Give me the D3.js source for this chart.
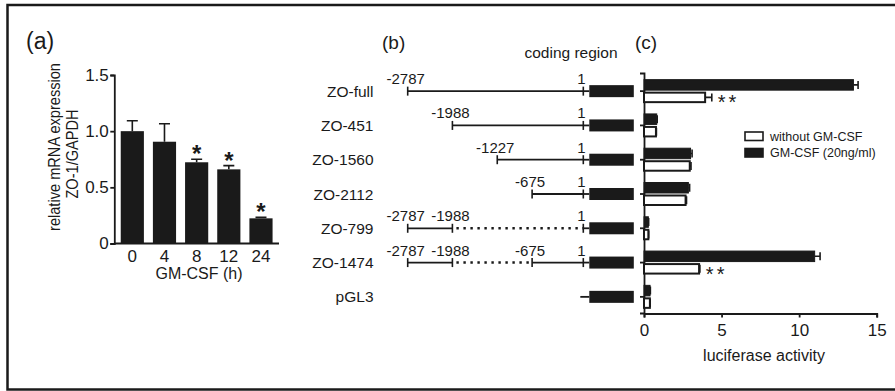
<!DOCTYPE html>
<html>
<head>
<meta charset="utf-8">
<script src="https://cdn.jsdelivr.net/npm/d3@7"></script>
<style>
  body { margin: 0; background: #fff; }
  svg { display: block; font-family: "Liberation Sans", Arial, sans-serif; }
</style>
</head>
<body>
<svg id="chart" width="895" height="391"></svg>
<script>
// panel (a): ZO-1 mRNA over time
const timeLabels = ["0", "4", "8", "12", "24"];
const mrnaMean = [1.0, 0.906, 0.723, 0.66, 0.224];
const mrnaErr = [0.093, 0.16, 0.027, 0.033, 0.009];
const mrnaSig = ["", "", "*", "*", "*"];
const yTicksA = [0, 0.5, 1.0, 1.5];

// panel (b): promoter constructs
const constructs = ["ZO-full", "ZO-451", "ZO-1560", "ZO-2112", "ZO-799", "ZO-1474", "pGL3"];
const segments = [
  [[-2787, 1, "solid"]],
  [[-1988, 1, "solid"]],
  [[-1227, 1, "solid"]],
  [[-675, 1, "solid"]],
  [[-2787, -1988, "solid"], [-1988, 1, "dotted"]],
  [[-2787, -1988, "solid"], [-1988, -675, "dotted"], [-675, 1, "solid"]],
  []
];
const breakpoints = [
  [-2787, 1], [-1988, 1], [-1227, 1], [-675, 1],
  [-2787, -1988, 1], [-2787, -1988, -675, 1], []
];

// panel (c): luciferase activity
const lucWithout = [3.94, 0.77, 2.95, 2.68, 0.28, 3.55, 0.38];
const lucWithoutErr = [0.43, 0.03, 0.08, 0.06, 0.02, 0.05, 0.02];
const lucGM = [13.5, 0.82, 3.0, 2.86, 0.28, 11.0, 0.39];
const lucGMErr = [0.3, 0.03, 0.1, 0.08, 0.02, 0.35, 0.02];
const lucSig = ["**", "", "", "", "", "**", ""];
const xTicksC = [0, 5, 10, 15];
const legendLabels = ["without GM-CSF", "GM-CSF (20ng/ml)"];

const ink = "#1a1a1a";
const svg = d3.select("#chart");

// outer frame (right side runs off the picture)
svg.append("path")
  .attr("d", "M900,5H7.5V389.5H900")
  .attr("fill", "none").attr("stroke", ink).attr("stroke-width", 2.5);

// panel letters
[["(a)", 26, 23], ["(b)", 382, 19], ["(c)", 635, 19]].forEach(([t, x, fs]) => {
  svg.append("text").attr("x", x).attr("y", 49).attr("font-size", fs).attr("fill", ink).text(t);
});

// ---------- (a) ----------
const ga = svg.append("g");
const xa = d3.scaleBand().domain(timeLabels).range([114.3, 279]).paddingInner(0.28).paddingOuter(0.2);
const ya = d3.scaleLinear().domain([0, 1.5]).range([243.5, 75]);

ga.append("g")
  .attr("transform", "translate(114.3,0)")
  .call(d3.axisLeft(ya).tickValues(yTicksA).tickSize(4).tickPadding(1.5)
    .tickFormat(d => d === 0 ? "0" : d3.format(".1f")(d)))
  .call(g => g.selectAll("text").attr("font-size", 17).attr("fill", ink).attr("font-family", null))
  .call(g => g.selectAll("line,path").attr("stroke", ink).attr("stroke-width", 1.8));

ga.append("g")
  .attr("transform", "translate(0,243.5)")
  .call(d3.axisBottom(xa).tickSize(0).tickPadding(6))
  .call(g => g.selectAll("text").attr("font-size", 17).attr("fill", ink).attr("font-family", null))
  .call(g => g.select("path").attr("stroke", ink).attr("stroke-width", 1.8)
    .attr("d", "M0,0H" + (279 - 114.3)).attr("transform", "translate(114.3,0)"));

const barsA = timeLabels.map((t, i) => ({ t, v: mrnaMean[i], e: mrnaErr[i], s: mrnaSig[i] }));
ga.selectAll(".err").data(barsA).join("path")
  .attr("d", d => {
    const cx = xa(d.t) + xa.bandwidth() / 2, top = ya(d.v + d.e);
    return `M${cx},${ya(d.v)}V${top}M${cx - 5.5},${top}H${cx + 5.5}`;
  })
  .attr("stroke", ink).attr("stroke-width", 1.6).attr("fill", "none");
ga.selectAll(".bar").data(barsA).join("rect")
  .attr("x", d => xa(d.t)).attr("width", xa.bandwidth())
  .attr("y", d => ya(d.v)).attr("height", d => ya(0) - ya(d.v))
  .attr("fill", ink);
ga.selectAll(".sig").data(barsA.filter(d => d.s)).join("text")
  .attr("x", d => xa(d.t) + xa.bandwidth() / 2)
  .attr("y", d => ya(d.v + d.e) + 3)
  .attr("text-anchor", "middle").attr("font-size", 24).attr("font-weight", "bold").attr("fill", ink)
  .text(d => d.s);

ga.append("text").attr("x", 199).attr("y", 279).attr("text-anchor", "middle")
  .attr("font-size", 16).attr("fill", ink).text("GM-CSF (h)");
ga.append("text").attr("transform", "translate(60,147) rotate(-90) scale(1,1.12)").attr("text-anchor", "middle")
  .attr("font-size", 14.6).attr("fill", ink).text("relative mRNA expression");
ga.append("text").attr("transform", "translate(77.5,154) rotate(-90) scale(1,1.12)").attr("text-anchor", "middle")
  .attr("font-size", 14.6).attr("fill", ink).text("ZO-1/GAPDH");

// ---------- shared rows for (b) and (c) ----------
const yr = d3.scaleBand().domain(constructs).range([73, 313]);
const rowY = c => yr(c) + yr.bandwidth() / 2 + 1;

// ---------- (b) ----------
const gb = svg.append("g");
// schematic position: bp upstream of +1
const xb = d3.scalePow().exponent(0.87).domain([0, 2788]).range([583.3, 407.7]);
const pos = p => xb(1 - p);

gb.append("text").attr("x", 571).attr("y", 58).attr("text-anchor", "middle")
  .attr("font-size", 15.5).attr("fill", ink).text("coding region");

constructs.forEach((c, i) => {
  const y = rowY(c);
  gb.append("text").attr("x", 373.5).attr("y", y + 5.5).attr("text-anchor", "end")
    .attr("font-size", 15.5).attr("fill", ink).text(c);

  segments[i].forEach(([a, b, style]) => {
    gb.append("line").attr("x1", pos(a)).attr("x2", pos(b)).attr("y1", y).attr("y2", y)
      .attr("stroke", ink)
      .attr("stroke-width", style === "dotted" ? 2.6 : 1.8)
      .attr("stroke-dasharray", style === "dotted" ? "2.4,4.6" : null)
      .attr("stroke-dashoffset", style === "dotted" ? -4 : null);
  });
  gb.append("line")
    .attr("x1", segments[i].length ? pos(1) : pos(1) - 3).attr("x2", pos(1) + 6)
    .attr("y1", y).attr("y2", y)
    .attr("stroke", ink).attr("stroke-width", 1.8);
  breakpoints[i].forEach(p => {
    gb.append("line").attr("x1", pos(p)).attr("x2", pos(p)).attr("y1", y - 4.5).attr("y2", y + 4.5)
      .attr("stroke", ink).attr("stroke-width", 1.6);
    gb.append("text").attr("x", pos(p) - 2).attr("y", y - 7).attr("text-anchor", "middle")
      .attr("font-size", 15).attr("fill", ink).text(String(p));
  });
  gb.append("rect").attr("x", pos(1) + 6).attr("y", y - 6).attr("width", 44.5).attr("height", 12)
    .attr("fill", ink);
});

// ---------- (c) ----------
const gc = svg.append("g");
const xc = d3.scaleLinear().domain([0, 15]).range([644, 876.7]);

gc.append("g")
  .attr("transform", "translate(0,313.5)")
  .call(d3.axisBottom(xc).tickValues(xTicksC).tickSize(4).tickPadding(6))
  .call(g => g.selectAll("text").attr("font-size", 17).attr("fill", ink).attr("font-family", null))
  .call(g => g.selectAll("line,path").attr("stroke", ink).attr("stroke-width", 1.8));
gc.append("g")
  .attr("transform", "translate(644,0)")
  .call(d3.axisLeft(yr).tickSize(4).tickFormat(""))
  .call(g => g.selectAll(".tick").attr("transform", d => `translate(0,${rowY(d)})`))
  .call(g => g.selectAll("line,path").attr("stroke", ink).attr("stroke-width", 1.8));

const barH = 10.5;
const barsC = constructs.map((c, i) => ({
  c, gm: lucGM[i], gmE: lucGMErr[i], wo: lucWithout[i], woE: lucWithoutErr[i], s: lucSig[i]
}));
const errPath = (v, e, y) => {
  const x0 = xc(v), x1 = xc(v + e);
  return `M${x0},${y}H${x1}M${x1},${y - 4}V${y + 4}`;
};
gc.selectAll(".egm").data(barsC).join("path")
  .attr("d", d => errPath(d.gm, d.gmE, rowY(d.c) - barH / 2 - 1))
  .attr("stroke", ink).attr("stroke-width", 1.6).attr("fill", "none");
gc.selectAll(".ewo").data(barsC).join("path")
  .attr("d", d => errPath(d.wo, d.woE, rowY(d.c) + barH / 2 + 1))
  .attr("stroke", ink).attr("stroke-width", 1.6).attr("fill", "none");
gc.selectAll(".bgm").data(barsC).join("rect")
  .attr("x", xc(0)).attr("width", d => xc(d.gm) - xc(0))
  .attr("y", d => rowY(d.c) - barH - 1).attr("height", barH)
  .attr("fill", ink).attr("stroke", ink).attr("stroke-width", 1);
gc.selectAll(".bwo").data(barsC).join("rect")
  .attr("x", xc(0)).attr("width", d => xc(d.wo) - xc(0))
  .attr("y", d => rowY(d.c) + 1.5).attr("height", barH - 1)
  .attr("fill", "#fff").attr("stroke", ink).attr("stroke-width", 2);
gc.selectAll(".sig").data(barsC.filter(d => d.s)).join("text")
  .attr("x", d => xc(d.wo + d.woE) + 6)
  .attr("y", d => rowY(d.c) + barH / 2 + 13)
  .attr("font-size", 20).attr("letter-spacing", 3).attr("fill", ink)
  .text(d => d.s);

gc.append("text").attr("x", 764).attr("y", 361).attr("text-anchor", "middle")
  .attr("font-size", 16).attr("fill", ink).text("luciferase activity");

// legend
const lg = gc.append("g").attr("transform", "translate(745,132)");
legendLabels.forEach((t, i) => {
  lg.append("rect").attr("x", 0).attr("y", i * 16.5).attr("width", 18).attr("height", 8.5)
    .attr("fill", i === 0 ? "#fff" : ink).attr("stroke", ink).attr("stroke-width", 1.6);
  lg.append("text").attr("x", 25).attr("y", i * 16.5 + 8.5).attr("font-size", 12.5)
    .attr("fill", ink).text(t);
});
</script>
</body>
</html>
